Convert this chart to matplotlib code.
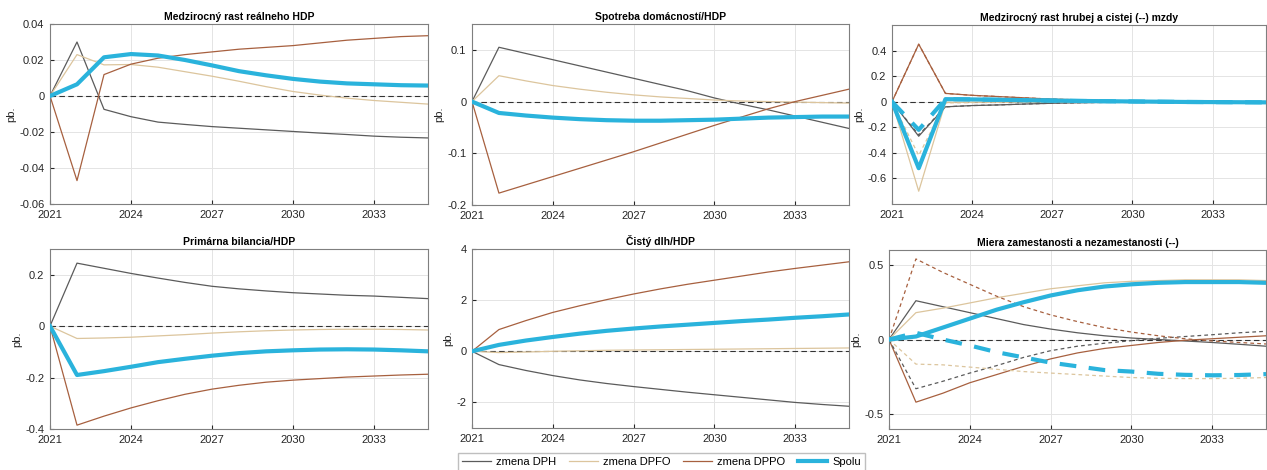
import numpy as np
import matplotlib
matplotlib.use("Agg")
import matplotlib.pyplot as plt

plt.rcParams['font.family'] = ['Liberation Sans', 'DejaVu Sans']

# roky
years = list(range(2021, 2036))
xticks = [2021, 2024, 2027, 2030, 2033]
labels = ['zmena DPH', 'zmena DPFO', 'zmena DPPO', 'Spolu']

# Medzirocny rast realneho HDP
hdp_dph = [0, 0.030, -0.0074, -0.0115, -0.0145, -0.0158, -0.017, -0.0179, -0.0188, -0.0197, -0.0206, -0.0214, -0.0223, -0.0229, -0.0233]
hdp_dpfo = [0, 0.023, 0.0173, 0.0175, 0.016, 0.0135, 0.011, 0.0082, 0.0052, 0.0025, 0.0005, -0.0012, -0.0025, -0.0035, -0.0045]
hdp_dppo = [0, -0.047, 0.0119, 0.0177, 0.021, 0.023, 0.0245, 0.026, 0.027, 0.028, 0.0295, 0.031, 0.032, 0.033, 0.0335]
hdp_spolu = [0, 0.0065, 0.0215, 0.0233, 0.0225, 0.020, 0.017, 0.0138, 0.0115, 0.0095, 0.008, 0.007, 0.0065, 0.006, 0.0058]

# Spotreba domacnosti/HDP
spot_dph = [0, 0.105, 0.093, 0.081, 0.069, 0.057, 0.045, 0.033, 0.021, 0.007, -0.005, -0.016, -0.028, -0.040, -0.052]
spot_dpfo = [0, 0.050, 0.040, 0.031, 0.024, 0.018, 0.013, 0.009, 0.006, 0.003, 0.001, 0.0, -0.001, -0.002, -0.003]
spot_dppo = [0, -0.177, -0.161, -0.145, -0.129, -0.113, -0.097, -0.080, -0.063, -0.046, -0.030, -0.014, 0.0, 0.012, 0.024]
spot_spolu = [0, -0.022, -0.027, -0.031, -0.034, -0.036, -0.037, -0.037, -0.036, -0.035, -0.033, -0.031, -0.030, -0.029, -0.029]

# Medzirocny rast hrubej a cistej (--) mzdy
mzda_dph = [0, -0.27, -0.04, -0.03, -0.025, -0.018, -0.012, -0.008, -0.005, -0.002, 0, 0, 0, 0, 0]
mzda_dpfo = [0, -0.70, -0.005, -0.004, -0.003, -0.002, -0.002, -0.001, -0.001, 0, 0, 0, 0, 0, 0]
mzda_dppo = [0, 0.45, 0.065, 0.05, 0.04, 0.03, 0.02, 0.015, 0.01, 0.005, 0.002, 0, -0.002, -0.004, -0.005]
mzda_spolu = [0, -0.52, 0.02, 0.018, 0.015, 0.012, 0.009, 0.006, 0.004, 0.002, 0, -0.002, -0.003, -0.004, -0.005]
cmzda_dph = [0, -0.26, -0.04, -0.03, -0.025, -0.018, -0.012, -0.008, -0.005, -0.002, 0, 0, 0, 0, 0]
cmzda_dpfo = [0, -0.42, -0.01, -0.006, -0.004, -0.003, -0.002, -0.001, 0, 0, 0, 0, 0, 0, 0]
cmzda_dppo = [0, 0.45, 0.065, 0.05, 0.04, 0.03, 0.02, 0.015, 0.01, 0.005, 0.002, 0, -0.002, -0.004, -0.005]
cmzda_spolu = [0, -0.22, 0.02, 0.018, 0.015, 0.012, 0.009, 0.006, 0.004, 0.002, 0, -0.002, -0.003, -0.004, -0.005]

# Primarna bilancia/HDP
pb_dph = [0, 0.245, 0.225, 0.205, 0.187, 0.170, 0.155, 0.145, 0.137, 0.130, 0.125, 0.120, 0.117, 0.112, 0.107]
pb_dpfo = [0, -0.048, -0.046, -0.043, -0.038, -0.033, -0.027, -0.022, -0.018, -0.015, -0.013, -0.012, -0.012, -0.013, -0.015]
pb_dppo = [0, -0.385, -0.350, -0.318, -0.290, -0.265, -0.245, -0.230, -0.218, -0.210, -0.204, -0.198, -0.194, -0.190, -0.187]
pb_spolu = [0, -0.190, -0.175, -0.158, -0.140, -0.127, -0.115, -0.105, -0.098, -0.094, -0.091, -0.090, -0.091, -0.094, -0.098]

# Cisty dlh/HDP
dlh_dph = [0, -0.52, -0.75, -0.95, -1.12, -1.26, -1.38, -1.49, -1.60, -1.70, -1.80, -1.90, -2.00, -2.08, -2.15]
dlh_dpfo = [0, -0.05, -0.03, 0.0, 0.02, 0.04, 0.05, 0.06, 0.07, 0.08, 0.09, 0.10, 0.11, 0.12, 0.13]
dlh_dppo = [0, 0.85, 1.20, 1.52, 1.78, 2.02, 2.24, 2.44, 2.62, 2.78, 2.94, 3.10, 3.24, 3.37, 3.50]
dlh_spolu = [0, 0.25, 0.42, 0.56, 0.69, 0.80, 0.89, 0.97, 1.04, 1.11, 1.18, 1.24, 1.31, 1.37, 1.44]

# Miera zamestnanosti a nezamestnanosti (--)
zam_dph = [0, 0.26, 0.22, 0.18, 0.14, 0.10, 0.07, 0.045, 0.025, 0.01, 0.0, -0.01, -0.02, -0.032, -0.045]
zam_dpfo = [0, 0.18, 0.21, 0.245, 0.28, 0.31, 0.34, 0.36, 0.38, 0.39, 0.395, 0.40, 0.40, 0.40, 0.395]
zam_dppo = [0, -0.42, -0.36, -0.29, -0.235, -0.18, -0.13, -0.09, -0.06, -0.04, -0.02, -0.005, 0.005, 0.015, 0.025]
zam_spolu = [0, 0.02, 0.08, 0.14, 0.20, 0.25, 0.295, 0.33, 0.355, 0.37, 0.38, 0.385, 0.385, 0.385, 0.38]
nez_dph = [0, -0.33, -0.28, -0.225, -0.175, -0.12, -0.075, -0.045, -0.025, -0.008, 0.008, 0.02, 0.032, 0.045, 0.055]
nez_dpfo = [0, -0.165, -0.17, -0.185, -0.20, -0.215, -0.225, -0.235, -0.245, -0.255, -0.26, -0.262, -0.262, -0.26, -0.255]
nez_dppo = [0, 0.54, 0.45, 0.37, 0.29, 0.22, 0.165, 0.12, 0.08, 0.05, 0.025, 0.005, -0.01, -0.02, -0.03]
nez_spolu = [0, 0.045, 0.0, -0.04, -0.085, -0.12, -0.155, -0.18, -0.205, -0.215, -0.23, -0.237, -0.24, -0.238, -0.232]

colors = ['#5b5b5b', '#dcc59d', '#a7603f', '#2ab3dc']
widths = [0.9, 0.9, 0.9, 3.0]

W, H = 1267, 470
fig = plt.figure(figsize=(W / 100, H / 100), dpi=100)


def make_ax(l, r, t, b):
    return fig.add_axes([l / W, 1 - b / H, (r - l) / W, (b - t) / H])


def style(ax, title, ylim, yticks):
    ax.set_xlim(2021, 2035)
    ax.set_ylim(*ylim)
    ax.set_xticks(xticks)
    ax.set_yticks(yticks)
    ax.set_yticklabels(['0' if v == 0 else '%g' % v for v in yticks])
    ax.grid(True, color='#e4e4e4', linewidth=0.7)
    ax.set_axisbelow(True)
    ax.axhline(0, color='#333333', linewidth=0.8, linestyle=(0, (5, 3)), zorder=1.5)
    ax.tick_params(direction='in', length=3, labelsize=8, colors='#262626', pad=4)
    for s in ax.spines.values():
        s.set_color('#7f7f7f')
        s.set_linewidth(0.8)
    ax.set_title(title, fontsize=7.5, fontweight='bold', pad=3)
    ax.set_ylabel('pb.', fontsize=8, color='#262626', labelpad=2)


def draw(ax, series, dashed=False):
    for i, y in enumerate(series):
        if dashed:
            ls = (0, (4, 3)) if i == 3 else (0, (3, 2.5))
        else:
            ls = '-'
        ax.plot(years, y, color=colors[i], lw=widths[i], linestyle=ls, zorder=3 if i == 3 else 2)


ax1 = make_ax(50, 428, 24, 204)
draw(ax1, [hdp_dph, hdp_dpfo, hdp_dppo, hdp_spolu])
style(ax1, 'Medzirocný rast reálneho HDP', (-0.06, 0.04), [-0.06, -0.04, -0.02, 0, 0.02, 0.04])

ax2 = make_ax(472, 849, 24, 205)
draw(ax2, [spot_dph, spot_dpfo, spot_dppo, spot_spolu])
style(ax2, 'Spotreba domácností/HDP', (-0.2, 0.15), [-0.2, -0.1, 0, 0.1])

ax3 = make_ax(892, 1266, 25, 204)
draw(ax3, [mzda_dph, mzda_dpfo, mzda_dppo, mzda_spolu])
draw(ax3, [cmzda_dph, cmzda_dpfo, cmzda_dppo, cmzda_spolu], dashed=True)
style(ax3, 'Medzirocný rast hrubej a cistej (--) mzdy', (-0.8, 0.6), [-0.6, -0.4, -0.2, 0, 0.2, 0.4])

ax4 = make_ax(50, 428, 249, 429)
draw(ax4, [pb_dph, pb_dpfo, pb_dppo, pb_spolu])
style(ax4, 'Primárna bilancia/HDP', (-0.4, 0.3), [-0.4, -0.2, 0, 0.2])

ax5 = make_ax(472, 849, 249, 428)
draw(ax5, [dlh_dph, dlh_dpfo, dlh_dppo, dlh_spolu])
style(ax5, 'Čistý dlh/HDP', (-3, 4), [-2, 0, 2, 4])

ax6 = make_ax(889, 1266, 250, 429)
draw(ax6, [zam_dph, zam_dpfo, zam_dppo, zam_spolu])
draw(ax6, [nez_dph, nez_dpfo, nez_dppo, nez_spolu], dashed=True)
style(ax6, 'Miera zamestanosti a nezamestanosti (--)', (-0.6, 0.6), [-0.5, 0, 0.5])

handles = [plt.Line2D([], [], color=colors[i], lw=widths[i]) for i in range(4)]
fig.legend(handles, labels, loc='upper left', bbox_to_anchor=(458 / W, 1 - 453 / H),
           ncol=4, fontsize=8, frameon=True, fancybox=False, edgecolor='#b0b0b0',
           handlelength=2.6, columnspacing=1.1, handletextpad=0.5, borderpad=0.35,
           borderaxespad=0)

fig.savefig('out.png', dpi=100)
